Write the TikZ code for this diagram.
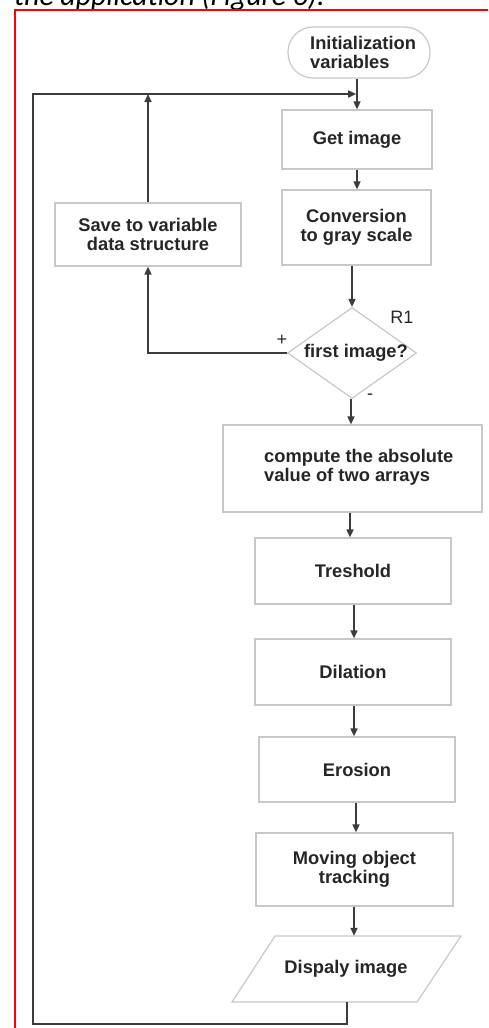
\documentclass[tikz,border=0pt]{standalone}
\usepackage{fontspec}
\setmainfont{Liberation Sans}
\newfontfamily\capfont{Carlito}
\usetikzlibrary{arrows.meta,shapes.geometric,calc}
\definecolor{boxline}{RGB}{200,200,200}
\definecolor{arrline}{RGB}{60,60,60}
\tikzset{
  box/.style={draw=boxline, line width=1.2pt, rectangle, inner sep=0pt},
  txt/.style={font=\fontsize{18.3}{19}\selectfont\bfseries, inner sep=0pt, text=black!85, align=center},
  lbl/.style={font=\fontsize{18}{19}\selectfont, inner sep=0pt, text=black!85},
  arr/.style={draw=arrline, line width=1.6pt, -{Triangle[length=8pt,width=7pt]}},
  conn/.style={draw=arrline, line width=1.6pt},
}
\begin{document}
\begin{tikzpicture}[x=1pt,y=-1pt]
\useasboundingbox (0,0) rectangle (488,1028);
\clip (0,0) rectangle (488,1028);
% caption fragment
\node[anchor=base west, inner sep=0pt, font=\capfont\itshape\fontsize{29.8}{30}\selectfont] (title) at (14,5) {the application (Figure 6).};
% red frame
\draw[red, line width=2.4pt] (15,1040) -- (15,10) -- (500,10);
% nodes
\node[box, rounded corners=25pt, minimum width=142pt, minimum height=51pt] (init) at (359,52.5) {};
\node[txt, align=left, anchor=west] (inittext) at (310,52.5) {Initialization\\variables};
\node[box, minimum width=150pt, minimum height=59pt, txt] (get) at (357,139.5) {Get image};
\node[box, minimum width=149pt, minimum height=75pt, txt] (conv) at (356.5,227.5) {Conversion\\to gray scale};
\node[box, minimum width=186pt, minimum height=63pt, txt] (save) at (148,234.5) {Save to variable\\data structure};
\node[diamond, draw=boxline, line width=1.2pt, minimum width=129pt, minimum height=91pt, inner sep=0pt] (dec) at (352,353) {};
\node[txt] (dectext) at (356,353) {first image?};
\node[lbl] (r1) at (402,317) {R1};
\node[lbl] (plus) at (282,340) {+};
\node[lbl] (minus) at (370,397) {-};
\node[box, minimum width=259pt, minimum height=87pt] (comp) at (352.5,468.5) {};
\node[txt, align=left, anchor=west] (comptext) at (264,467.5) {compute the absolute\\value of two arrays};
\node[box, minimum width=196pt, minimum height=66pt, txt] (tre) at (353,571) {Treshold};
\node[box, minimum width=196pt, minimum height=66pt, txt] (dil) at (353,672) {Dilation};
\node[box, minimum width=196pt, minimum height=65pt, txt] (ero) at (357,769.5) {Erosion};
\node[box, minimum width=197pt, minimum height=73pt, txt] (mov) at (354.5,869.5) {Moving object\\tracking};
\node[txt, minimum width=140pt, minimum height=66pt] (disp) at (346,969) {Dispaly image};
\draw[draw=boxline, line width=1.2pt] (275,936) -- (461,936) -- (417,1002) -- (232,1002) -- cycle;
% loop coordinates
\coordinate (join) at (357,94);
\coordinate (saveup) at (148,94);
\coordinate (tl) at (33,94);
\coordinate (bl) at (33,1024);
\coordinate (br) at (347,1024);
\coordinate (dleft) at (148,353);
% connectors
\draw[conn] (init.south -| join) -- (join);
\draw[arr] (join) -- (get.north -| join);
\draw[arr] (get.south -| join) -- (conv.north -| join);
\draw[arr] (conv.south -| dec.north) -- (dec.north);
\draw[arr] (dec.south -| 351,0) -- (comp.north -| 351,0);
\draw[arr] (comp.south -| 350,0) -- (tre.north -| 350,0);
\draw[arr] (tre.south -| 354,0) -- (dil.north -| 354,0);
\draw[arr] (dil.south -| 354,0) -- (ero.north -| 354,0);
\draw[arr] (ero.south -| 356,0) -- (mov.north -| 356,0);
\draw[arr] (mov.south -| 354,0) -- (disp.north -| 354,0);
\draw[arr] (dec.west) -- (dleft) -- (save.south);
\draw[arr] (save.north) -- (saveup);
\draw[arr, shorten >=0.8pt] (disp.south -| br) -- (br) -- (bl) -- (tl) -- (join);
\end{tikzpicture}
\end{document}
